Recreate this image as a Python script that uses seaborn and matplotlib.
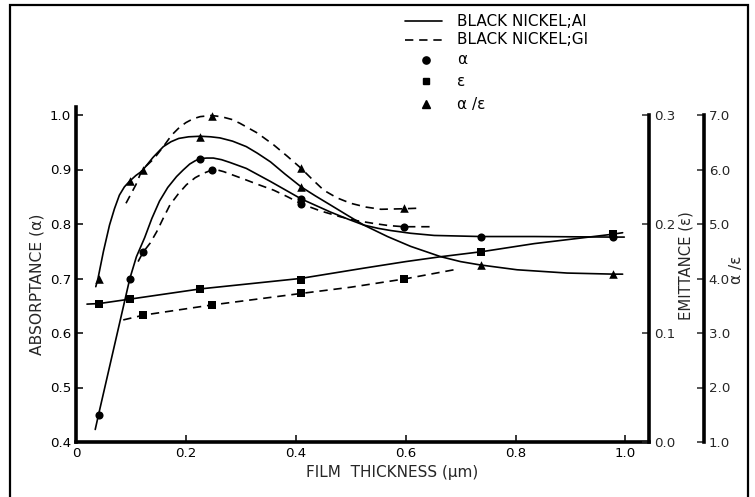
import matplotlib
matplotlib.use("Agg")
import matplotlib.pyplot as plt
from matplotlib.lines import Line2D
from matplotlib.patches import Rectangle
import seaborn as sns

# ---------------- data ----------------
# measured points, Al substrate (solid) and glass substrate (dashed)
x_ai = [0.041, 0.098, 0.226, 0.41, 0.737, 0.977]
alpha_ai = [0.45, 0.70, 0.92, 0.846, 0.777, 0.776]
eps_ai = [0.127, 0.131, 0.1405, 0.149, 0.1747, 0.1905]
ratio_ai = [4.0, 5.79, 6.6, 5.68, 4.25, 4.08]

x_gi = [0.122, 0.247, 0.41, 0.597]
alpha_gi = [0.748, 0.899, 0.837, 0.794]
eps_gi = [0.1165, 0.1257, 0.1363, 0.1495]
ratio_gi = [5.99, 6.99, 6.02, 5.29]

# hand-drawn curves
curve_alpha_ai_x = [0.035, 0.041, 0.098, 0.11, 0.125, 0.138, 0.152, 0.167, 0.183, 0.195,
                    0.207, 0.217, 0.226, 0.238, 0.25, 0.265, 0.28, 0.31, 0.354, 0.41,
                    0.463, 0.495, 0.524, 0.55, 0.573, 0.609, 0.652, 0.737, 0.834, 0.977,
                    0.998]
curve_alpha_ai_y = [0.423, 0.45, 0.70, 0.74, 0.775, 0.81, 0.842, 0.867, 0.887, 0.899,
                    0.910, 0.916, 0.920, 0.921, 0.921, 0.918, 0.913, 0.902, 0.878, 0.846,
                    0.822, 0.809, 0.798, 0.792, 0.788, 0.783, 0.779, 0.777, 0.777, 0.776,
                    0.776]

curve_eps_ai_x = [0.02, 0.042, 0.097, 0.227, 0.408, 0.524, 0.6, 0.664, 0.74, 0.834, 0.975, 0.995]
curve_eps_ai_y = [0.1265, 0.127, 0.131, 0.1405, 0.150, 0.1595, 0.1655, 0.170, 0.1747, 0.182,
                  0.1905, 0.192]

curve_ratio_ai_x = [0.036, 0.040, 0.05, 0.061, 0.07, 0.079, 0.088, 0.098, 0.109, 0.12,
                    0.14, 0.159, 0.173, 0.187, 0.205, 0.226, 0.245, 0.262, 0.285, 0.31,
                    0.33, 0.354, 0.38, 0.41, 0.435, 0.463, 0.494, 0.524, 0.567, 0.609,
                    0.664, 0.7, 0.735, 0.803, 0.894, 0.979, 0.995]
curve_ratio_ai_y = [3.85, 4.0, 4.5, 4.98, 5.28, 5.53, 5.68, 5.79, 5.89, 5.97,
                    6.22, 6.42, 6.51, 6.57, 6.6, 6.61, 6.6, 6.58, 6.52, 6.42,
                    6.3, 6.14, 5.92, 5.68, 5.52, 5.35, 5.16, 4.98, 4.77, 4.59,
                    4.4, 4.31, 4.25, 4.16, 4.1, 4.08, 4.08]

curve_alpha_gi_x = [0.113, 0.122, 0.135, 0.147, 0.159, 0.171, 0.186, 0.201, 0.217, 0.232,
                    0.247, 0.258, 0.269, 0.285, 0.304, 0.33, 0.36, 0.385, 0.41, 0.445,
                    0.482, 0.512, 0.542, 0.57, 0.597, 0.649]
curve_alpha_gi_y = [0.731, 0.748, 0.765, 0.786, 0.811, 0.835, 0.855, 0.872, 0.885, 0.893,
                    0.899, 0.899, 0.896, 0.890, 0.883, 0.873, 0.862, 0.85, 0.837, 0.824,
                    0.813, 0.806, 0.801, 0.797, 0.795, 0.795]

curve_eps_gi_x = [0.086, 0.124, 0.247, 0.41, 0.5, 0.597, 0.688]
curve_eps_gi_y = [0.112, 0.1165, 0.1257, 0.1363, 0.142, 0.1495, 0.158]

curve_ratio_gi_x = [0.091, 0.109, 0.12, 0.142, 0.159, 0.174, 0.188, 0.2, 0.213, 0.226,
                    0.245, 0.256, 0.268, 0.283, 0.298, 0.33, 0.36, 0.385, 0.41, 0.43,
                    0.451, 0.475, 0.5, 0.528, 0.555, 0.597, 0.624]
curve_ratio_gi_y = [5.38, 5.72, 5.99, 6.2, 6.42, 6.63, 6.77, 6.86, 6.93, 6.97,
                    6.99, 6.98, 6.96, 6.92, 6.85, 6.67, 6.45, 6.24, 6.02, 5.82,
                    5.62, 5.48, 5.38, 5.31, 5.27, 5.28, 5.29]

x_ticks = [0, 0.2, 0.4, 0.6, 0.8, 1.0]
x_ticklabels = ["0", "0.2", "0.4", "0.6", "0.8", "1.0"]
alpha_ticks = [0.4, 0.5, 0.6, 0.7, 0.8, 0.9, 1.0]
eps_ticks = [0.0, 0.1, 0.2, 0.3]
ratio_ticks = [1.0, 2.0, 3.0, 4.0, 5.0, 6.0, 7.0]

legend_labels = ["BLACK NICKEL;AI", "BLACK NICKEL;GI", "α", "ε", "α /ε"]

# ---------------- styling ----------------
sns.set_theme(style="ticks")
plt.rcParams["font.family"] = ["DejaVu Sans"]
FS = 9.6
W, H = 755, 497
fig = plt.figure(figsize=(W / 100, H / 100), dpi=100)
fig.patch.set_facecolor("white")

L, R, B, T = 76, 649, 442, 107
ax = fig.add_axes([L / W, (H - B) / H, (R - L) / W, (B - T) / H])
ax.set_facecolor("white")
ax2 = ax.twinx()
ax3 = ax.twinx()

ax.set_xlim(0.0, 1.043)
ax.set_ylim(0.4, 1.0 + 8 / 545)
ax2.set_ylim(0.0, 0.3 + 8 / 1090)
ax3.set_ylim(1.0, 7.0 + 8 / 54.5)

LW = 1.2
DASH = (0, (5, 3.5))

def draw_line(axis, xs, ys, dashed):
    sns.lineplot(x=xs, y=ys, ax=axis, color="black", lw=LW,
                 linestyle=DASH if dashed else "-", legend=False)

def draw_pts(axis, xs, ys, marker, size):
    sns.scatterplot(x=xs, y=ys, ax=axis, color="black", marker=marker, s=size,
                    edgecolor="black", linewidth=0, legend=False, zorder=5)

draw_line(ax, curve_alpha_ai_x, curve_alpha_ai_y, False)
draw_line(ax, curve_alpha_gi_x, curve_alpha_gi_y, True)
draw_line(ax2, curve_eps_ai_x, curve_eps_ai_y, False)
draw_line(ax2, curve_eps_gi_x, curve_eps_gi_y, True)
draw_line(ax3, curve_ratio_ai_x, curve_ratio_ai_y, False)
draw_line(ax3, curve_ratio_gi_x, curve_ratio_gi_y, True)

draw_pts(ax, x_ai, alpha_ai, "o", 34)
draw_pts(ax, x_gi, alpha_gi, "o", 34)
draw_pts(ax2, x_ai, eps_ai, "s", 28)
draw_pts(ax2, x_gi, eps_gi, "s", 28)
draw_pts(ax3, x_ai, ratio_ai, "^", 38)
draw_pts(ax3, x_gi, ratio_gi, "^", 38)

SW = 2.6
for a in (ax, ax2, ax3):
    for s in a.spines.values():
        s.set_visible(False)
        s.set_linewidth(SW)
        s.set_color("black")
ax.spines["left"].set_visible(True)
ax.spines["bottom"].set_visible(True)
ax2.spines["right"].set_visible(True)
ax2.spines["right"].set_bounds(0.0, 0.3)
ax3.spines["right"].set_visible(True)
ax3.spines["right"].set_position(("outward", 55 * 0.72))
ax3.spines["right"].set_bounds(1.0, 7.0)

ax.set_xticks(x_ticks)
ax.set_xticklabels(x_ticklabels)
ax.set_yticks(alpha_ticks)
ax.set_yticklabels([f"{v:.1f}" for v in alpha_ticks])
ax2.set_yticks(eps_ticks)
ax2.set_yticklabels([f"{v:.1f}" for v in eps_ticks])
ax3.set_yticks(ratio_ticks)
ax3.set_yticklabels([f"{v:.1f}" for v in ratio_ticks])

ax.tick_params(axis="both", direction="in", length=5, width=1.1, labelsize=FS,
               colors="black", pad=3.5)
ax2.tick_params(axis="y", direction="in", length=5, width=1.1, labelsize=FS, pad=3.5)
ax3.tick_params(axis="y", direction="in", length=5, width=1.1, labelsize=FS, pad=3.5)
ax.yaxis.set_ticks_position("left")
ax.xaxis.set_ticks_position("bottom")

AH = B - T
AW = R - L
ax.set_xlabel("FILM  THICKNESS (μm)", fontsize=11)
ax.xaxis.set_label_coords((392 - L) / AW, -(472 - B) / AH)
ax.xaxis.label.set_va("center")

ax.set_ylabel("ABSORPTANCE (α)", fontsize=11.2)
ax.yaxis.set_label_coords(-(L - 37) / AW, (B - 284) / AH)
ax.yaxis.label.set_va("center")

ax2.set_ylabel("EMITTANCE (ε)", fontsize=10.6)
ax2.yaxis.set_label_coords((686 - L) / AW, (B - 266) / AH)
ax2.yaxis.label.set_va("center")
ax2.yaxis.label.set_rotation(90)

ax3.set_ylabel("α /ε", fontsize=11)
ax3.yaxis.set_label_coords((737 - L) / AW, (B - 270) / AH)
ax3.yaxis.label.set_va("center")
ax3.yaxis.label.set_rotation(90)

# legend (key drawn at the top of the figure)
row_y = [21, 40, 60, 81, 104]
styles = [("-", None), (DASH, None), ("none", "o"), ("none", "s"), ("none", "^")]
msizes = [0, 0, 5.2, 4.6, 5.6]
for yy, (ls, mk), ms, lab in zip(row_y, styles, msizes, legend_labels):
    yf = 1 - yy / H
    if mk is None:
        fig.add_artist(Line2D([405 / W, 442 / W], [yf, yf], transform=fig.transFigure,
                              color="black", lw=LW, linestyle=ls))
    else:
        fig.add_artist(Line2D([426 / W], [yf], transform=fig.transFigure, color="black",
                              marker=mk, markersize=ms, linestyle="none"))
    fig.text(457 / W, yf, lab, fontsize=11, va="center", ha="left", color="black")

# outer frame of the scanned figure
fig.add_artist(Rectangle((10 / W, -0.05), (748 - 10) / W, 1.05 - 5 / H,
                         transform=fig.transFigure, fill=False, lw=1.6,
                         edgecolor="black"))

fig.savefig("out.png", dpi=100, facecolor="white")
